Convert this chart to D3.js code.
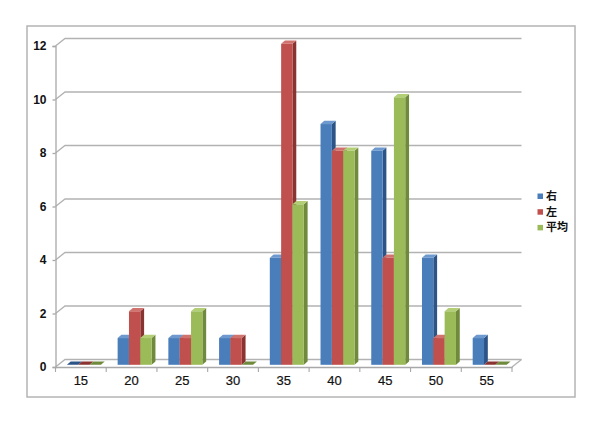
<!DOCTYPE html>
<html><head><meta charset="utf-8">
<script src="https://cdn.jsdelivr.net/npm/d3@7"></script>
<style>html,body{margin:0;padding:0;background:#fff}svg{display:block}
text{font-family:"Liberation Sans",Arial,sans-serif;fill:#111}</style></head>
<body><svg id="c" width="600" height="424"></svg>
<script>
const categories=["15","20","25","30","35","40","45","50","55"];
const right=[0,1,1,1,4,9,8,4,1];
const left=[0,2,1,1,12,8,4,1,0];
const average=[0,1,2,0,6,8,10,2,0];
const seriesNames=["右","左","平均"];
const yTicks=[0,2,4,6,8,10,12];
const fronts=["#4a7ebb","#c0504d","#9bbb59"];
const tops=["#6d99cf","#d0736f","#b3cf75"];
const sides=["#2c5487","#8a3331","#6f8a3c"];

const svg=d3.select("#c");
svg.append("rect").attr("x",27).attr("y",26).attr("width",548).attr("height",371)
  .attr("fill","#fff").attr("stroke","#b4b4b4").attr("stroke-width",1.5);

const x=d3.scaleBand().domain(categories).range([55.5,512]);
const y=d3.scaleLinear().domain([0,12]).range([367,46]);
const dx=9.5,dy=7.5;
const grid=svg.append("g").attr("fill","none").attr("stroke","#b2b2b2").attr("stroke-width",1.3);
yTicks.forEach(t=>{
  grid.append("path").attr("d",`M55.5,${y(t)}L${55.5+dx},${y(t)-dy}H${512+dx}`);
});
grid.append("path").attr("d",`M512,${y(0)}L${512+dx},${y(0)-dy}`);

const ax=svg.append("g").attr("transform",`translate(55.5,0)`)
  .call(d3.axisLeft(y).tickValues(yTicks).tickSize(3).tickPadding(6));
ax.selectAll("path,line").attr("stroke","#a8a8a8").attr("stroke-width",1.3);
ax.selectAll("text").attr("font-size",12).attr("font-weight","bold").attr("fill","#111");

const bx=svg.append("g").attr("transform",`translate(0,${y(0)})`)
  .call(d3.axisBottom(x).tickSize(0).tickPadding(9));
bx.select("path").attr("stroke","#a8a8a8").attr("stroke-width",1.3);
bx.selectAll("text").attr("font-size",13).attr("fill","#111").attr("stroke","#111").attr("stroke-width",0.2);
const tk=svg.append("g").attr("stroke","#a8a8a8").attr("stroke-width",1.1);
categories.forEach(c=>tk.append("line").attr("x1",x(c)).attr("x2",x(c)).attr("y1",y(0)).attr("y2",y(0)+5));
tk.append("line").attr("x1",512).attr("x2",512).attr("y1",y(0)).attr("y2",y(0)+5);

const series=[right,left,average];
const offs=x.bandwidth()*0.225, bw=x.bandwidth()*0.2235, ddx=3.8, ddy=3.2, baseShift=2.2;
const bars=svg.append("g");
categories.forEach((c,i)=>{
  series.forEach((s,k)=>{
    const v=s[i],x0=x(c)+offs+k*bw,x1=x0+bw,yb=y(0)-baseShift,yt=y(v)-baseShift;
    const g=bars.append("g");
    g.append("path").attr("fill",sides[k])
      .attr("d",`M${x1},${yt}L${x1+ddx},${yt-ddy}V${yb-ddy}L${x1},${yb}Z`);
    g.append("path").attr("fill",v===0?sides[k]:tops[k])
      .attr("d",`M${x0},${yt}L${x0+ddx},${yt-ddy}H${x1+ddx}L${x1},${yt}Z`);
    g.append("rect").attr("x",x0).attr("y",yt).attr("width",bw).attr("height",yb-yt).attr("fill",fronts[k]);
  });
});

const lg=svg.append("g");
seriesNames.forEach((n,k)=>{
  const ly=196+k*15.7;
  lg.append("rect").attr("x",537.5).attr("y",ly-2.5).attr("width",5.5).attr("height",5.5).attr("fill",fronts[k]);
  lg.append("text").attr("x",546).attr("y",ly+4).attr("font-size",11)
    .style("font-family",'"Noto Sans CJK JP"').attr("font-weight",700).text(n);
});
</script></body></html>
